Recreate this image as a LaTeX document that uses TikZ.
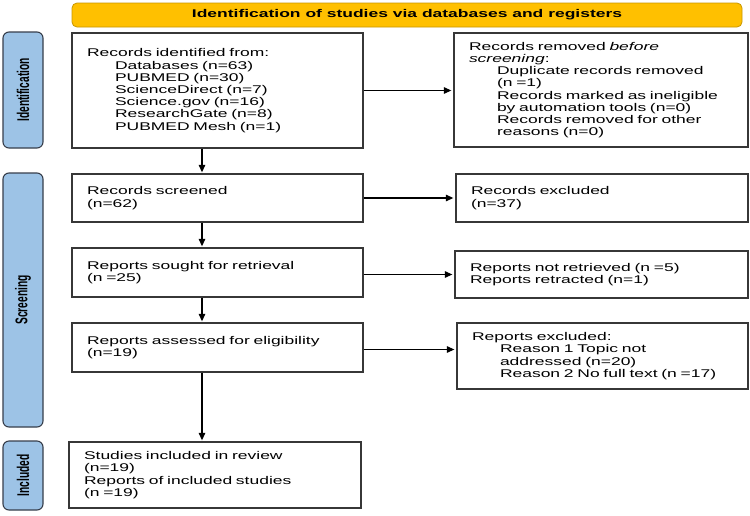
\documentclass[tikz,border=0pt]{standalone}
\usepackage{fontspec}
\setmainfont{Liberation Sans}[FakeStretch=1.56]
\newfontfamily\sidefont{Liberation Sans}[FakeStretch=0.6]
\usetikzlibrary{arrows.meta}
\definecolor{bannergold}{RGB}{255,192,0}
\definecolor{bannerline}{RGB}{200,150,0}
\definecolor{sideblue}{RGB}{157,195,230}
\definecolor{sideline}{RGB}{55,62,75}
\definecolor{boxline}{RGB}{55,55,55}
\newcommand{\ind}{\hspace*{28pt}}

\begin{document}
\begin{tikzpicture}[x=1pt, y=-1pt, >={Triangle[length=7.5pt,width=6.5pt]}]
    \tikzstyle{banner} = [rectangle, rounded corners=5pt, minimum width=670pt, minimum height=24pt, draw=bannerline, fill=bannergold, line width=0.8pt, font=\fontsize{11.2}{12.2}\selectfont\bfseries]
    \tikzstyle{phase} = [rectangle, rounded corners=6pt, minimum height=40pt, draw=sideline, fill=sideblue, line width=1.1pt, rotate=90, font=\sidefont\fontsize{17}{18}\selectfont\bfseries]
    \tikzstyle{stage} = [rectangle, draw=boxline, line width=1.3pt, fill=white, align=left, inner xsep=15pt, inner ysep=0pt, font=\fontsize{11.2}{12.2}\selectfont]
    \tikzstyle{flow} = [->, line width=1.2pt, shorten >=1pt]
    \useasboundingbox (0,0) rectangle (750,515);

    % Header and phase bars
    \node [banner] (header) at (407,15) {Identification of studies via databases and registers};
    \node [phase, minimum width=116pt] (identification) at (23,90) {Identification};
    \node [phase, minimum width=254pt] (screening) at (23,300) {Screening};
    \node [phase, minimum width=69pt] (included) at (23,475.5) {Included};

    % Main column
    \node [stage, text width=261pt, minimum height=115pt] (identified) at (217.5,90.5) {Records identified from:\\
        \ind Databases (n=63)\\
        \ind PUBMED (n=30)\\
        \ind ScienceDirect (n=7)\\
        \ind Science.gov (n=16)\\
        \ind ResearchGate (n=8)\\
        \ind PUBMED Mesh (n=1)};
    \node [stage, text width=261pt, minimum height=48pt] (screened) at (217.5,198) {Records screened\\(n=62)};
    \node [stage, text width=261pt, minimum height=49pt] (sought) at (217.5,272.5) {Reports sought for retrieval\\(n =25)};
    \node [stage, text width=261pt, minimum height=49pt] (assessed) at (217.5,347.5) {Reports assessed for eligibility\\(n=19)};
    \node [stage, text width=262pt, minimum height=66pt] (studies) at (215,475) {Studies included in review\\(n=19)\\Reports of included studies\\(n =19)};

    % Side column
    \node [stage, text width=264pt, minimum height=114pt] (removed) at (601,90) {Records removed \textit{before}\\
        \textit{screening}:\\
        \ind Duplicate records removed\\
        \ind (n =1)\\
        \ind Records marked as ineligible\\
        \ind by automation tools (n=0)\\
        \ind Records removed for other\\
        \ind reasons (n=0)};
    \node [stage, text width=262pt, minimum height=48pt] (excluded) at (602,198) {Records excluded\\(n=37)};
    \node [stage, text width=263pt, minimum height=47pt] (notretrieved) at (601.5,274.5) {Reports not retrieved (n =5)\\Reports retracted (n=1)};
    \node [stage, text width=261pt, minimum height=66pt] (reportsexcl) at (602.5,356) {Reports excluded:\\
        \ind Reason 1 Topic not\\
        \ind addressed (n=20)\\
        \ind Reason 2 No full text (n =17)\\[4pt]};

    % Connectors
    \coordinate (downline) at (202,0);
    \draw [flow] (identified.south -| downline) -- (screened.north -| downline);
    \draw [flow] (screened.south -| downline) -- (sought.north -| downline);
    \draw [flow] (sought.south -| downline) -- (assessed.north -| downline);
    \draw [flow] (assessed.south -| downline) -- (studies.north -| downline);

    \draw [flow, shorten >=2pt] (identified.east) -- (identified.east -| removed.west);
    \draw [flow, shorten >=2pt] (screened.east) -- (screened.east -| excluded.west);
    \draw [flow, shorten >=2pt] (notretrieved.west -| sought.east) -- (notretrieved.west);
    \draw [flow, shorten >=2pt] ([yshift=-2pt]assessed.east) -- ([yshift=-2pt]assessed.east -| reportsexcl.west);
\end{tikzpicture}
\end{document}
